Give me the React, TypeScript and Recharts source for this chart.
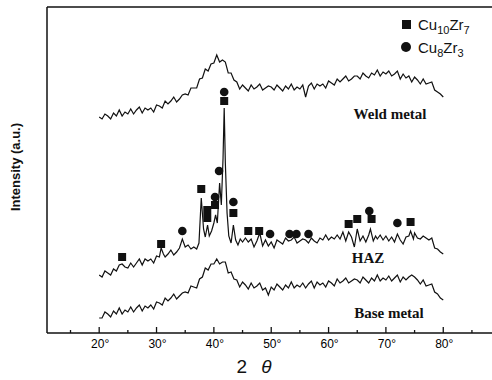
import React from 'react';
import { ComposedChart, Line, Scatter, XAxis, YAxis, ReferenceLine } from 'recharts';

// scan angles (2θ) shared by the weld and base metal traces
const scanAngles = [
  20, 20.5, 21, 21.5, 22, 22.5, 23, 23.5, 24, 24.5,
  25, 25.5, 26, 26.5, 27, 27.5, 28, 28.5, 29, 29.5,
  30, 30.5, 31, 31.5, 32, 32.5, 33, 33.5, 34, 34.5,
  35, 35.5, 36, 36.5, 37, 37.5, 38, 38.5, 39, 39.5,
  40, 40.5, 41, 41.5, 42, 42.5, 43, 43.5, 44, 44.5,
  45, 45.5, 46, 46.5, 47, 47.5, 48, 48.5, 49, 49.5,
  50, 50.5, 51, 51.5, 52, 52.5, 53, 53.5, 54, 54.5,
  55, 55.5, 56, 56.5, 57, 57.5, 58, 58.5, 59, 59.5,
  60, 60.5, 61, 61.5, 62, 62.5, 63, 63.5, 64, 64.5,
  65, 65.5, 66, 66.5, 67, 67.5, 68, 68.5, 69, 69.5,
  70, 70.5, 71, 71.5, 72, 72.5, 73, 73.5, 74, 74.5,
  75, 75.5, 76, 76.5, 77, 77.5, 78, 78.5, 79, 79.5,
  80,
];

// intensity (a.u., offset traces)
const weldMetal = [
  216, 214, 219, 217, 214, 220, 217, 223, 217, 221,
  219, 224, 219, 223, 226, 220, 225, 223, 225, 221,
  228, 227, 225, 232, 229, 232, 236, 231, 234, 238,
  239, 238, 245, 245, 245, 254, 255, 264, 262, 269,
  270, 278, 271, 273, 271, 260, 260, 253, 251, 244,
  248, 245, 242, 248, 244, 246, 249, 243, 245, 247,
  246, 243, 248, 245, 242, 247, 244, 249, 243, 246,
  244, 248, 236, 247, 250, 244, 249, 247, 249, 245,
  252, 250, 248, 254, 251, 254, 257, 252, 254, 257,
  257, 254, 260, 257, 255, 260, 258, 263, 257, 261,
  259, 262, 257, 259, 262, 254, 259, 255, 257, 251,
  256, 253, 249, 254, 249, 250, 251, 243, 241, 239,
  236,
];

const baseMetal = [
  15, 15, 21, 19, 16, 22, 19, 25, 19, 23,
  21, 26, 21, 25, 28, 22, 27, 25, 28, 24,
  31, 30, 28, 35, 32, 35, 39, 34, 37, 40,
  41, 40, 47, 46, 45, 54, 56, 65, 63, 69,
  69, 74, 69, 71, 71, 60, 61, 54, 53, 46,
  51, 48, 44, 50, 45, 47, 50, 43, 45, 38,
  46, 43, 49, 46, 43, 48, 45, 51, 45, 48,
  46, 50, 45, 49, 52, 45, 51, 48, 50, 46,
  52, 50, 47, 54, 50, 52, 55, 50, 52, 54,
  53, 50, 56, 53, 50, 55, 52, 58, 52, 55,
  53, 57, 52, 55, 58, 51, 56, 53, 56, 58,
  56, 53, 49, 53, 47, 48, 49, 41, 39, 35,
  33,
];

// HAZ trace, denser around the crystalline peaks
const hazAngles = [
  20, 20.5, 21, 21.5, 22, 22.5, 23, 23.5, 24, 24.5,
  25, 25.5, 26, 26.5, 27, 27.5, 28, 28.5, 29, 29.5,
  30, 30.5, 30.8, 31.2, 31.5, 32, 32.5, 33, 33.5, 34,
  34.5, 35, 35.5, 36, 36.5, 37, 37.4, 37.8, 38.2, 38.5,
  38.9, 39.2, 39.6, 40, 40.3, 40.6, 41, 41.3, 41.6, 41.8,
  42, 42.3, 42.6, 43, 43.4, 43.8, 44.2, 44.6, 45, 45.5,
  46, 46.5, 47, 47.5, 48, 48.5, 49, 49.5, 50, 50.5,
  51, 51.5, 52, 52.5, 53, 53.5, 54, 54.5, 55, 55.5,
  56, 56.5, 57, 57.5, 58, 58.5, 59, 59.5, 60, 60.5,
  61, 61.5, 62, 62.5, 63, 63.5, 64, 64.5, 65, 65.5,
  66, 66.5, 67, 67.3, 67.8, 68.2, 68.5, 69, 69.5, 70,
  70.5, 71, 71.5, 72, 72.5, 73, 73.5, 74, 74.3, 74.8,
  75, 75.5, 76, 76.5, 77, 77.5, 78, 78.5, 79, 79.5,
  80,
];

const hazCounts = [
  58, 56, 62, 60, 58, 64, 62, 68, 69, 66,
  65, 70, 66, 70, 74, 68, 74, 72, 74, 70,
  77, 76, 85, 79, 76, 79, 83, 78, 81, 85,
  94, 86, 88, 84, 86, 84, 90, 135, 104, 96,
  108, 97, 102, 110, 118, 110, 150, 128, 175, 225,
  170, 120, 97, 90, 108, 93, 88, 94, 91, 95,
  91, 94, 86, 92, 100, 87, 93, 87, 91, 85,
  93, 91, 89, 95, 92, 93, 96, 90, 92, 94,
  93, 90, 95, 92, 90, 95, 93, 98, 93, 96,
  94, 98, 94, 101, 92, 101, 96, 86, 104, 92,
  97, 91, 98, 104, 92, 97, 94, 98, 93, 97,
  92, 96, 91, 99, 93, 89, 96, 97, 102, 94,
  100, 95, 94, 97, 95, 93, 95, 85, 84, 81,
  79,
];

// phase markers on the HAZ pattern
const cu10Zr7Angles = [24.0, 30.8, 37.8, 38.85, 38.85, 40.2, 41.8, 43.4, 46.0, 47.9, 63.5, 65.0, 67.5, 74.3];
const cu10Zr7Heights = [76, 89, 144, 123, 115, 128, 232, 120, 102, 102, 109, 114, 114, 111];
const cu8Zr3Angles = [34.5, 40.2, 40.9, 41.8, 43.4, 49.8, 53.2, 54.4, 56.5, 67.1, 72.0];
const cu8Zr3Heights = [102, 136, 162, 241, 131, 99, 99, 99, 99, 122, 110];

const angleTicks = [15, 20, 25, 30, 35, 40, 45, 50, 55, 60, 65, 70, 75, 80, 85];

const weldData = scanAngles.map((x, i) => ({ x, y: weldMetal[i] }));
const baseData = scanAngles.map((x, i) => ({ x, y: baseMetal[i] }));
const hazData = hazAngles.map((x, i) => ({ x, y: hazCounts[i] }));
const squareData = cu10Zr7Angles.map((x, i) => ({ x, y: cu10Zr7Heights[i] }));
const circleData = cu8Zr3Angles.map((x, i) => ({ x, y: cu8Zr3Heights[i] }));

const INK = '#111';

const AngleTick = (props: any) => {
  const { x, y, payload } = props;
  const major = payload.value % 10 === 0;
  return (
    <g>
      <line x1={x} x2={x} y1={y} y2={y - (major ? 6 : 3)} stroke={INK} strokeWidth={1.3} />
      {major && (
        <text x={x + 1} y={y + 15} textAnchor="middle" fontFamily="Arial, 'Liberation Sans'" fontSize={12} fill="#000">
          {payload.value + '°'}
        </text>
      )}
    </g>
  );
};

const SquareMark = (props: any) => (
  <rect x={props.cx - 4} y={props.cy - 4} width={8} height={8} fill={INK} />
);
const CircleMark = (props: any) => <circle cx={props.cx} cy={props.cy} r={4.3} fill={INK} />;

const serif = "'Liberation Serif', 'Times New Roman', serif";
const sans = "'Liberation Sans', Arial, sans-serif";

export default function App() {
  return (
    <div style={{ position: 'absolute', left: 0, top: 0, width: 492, height: 380, background: '#fff' }}>
      <ComposedChart width={492} height={380} margin={{ top: 7, right: 0, bottom: 0, left: 0 }}>
        <XAxis
          dataKey="x"
          type="number"
          domain={[10.9, 88.5]}
          ticks={angleTicks}
          interval={0}
          allowDataOverflow
          tick={<AngleTick />}
          tickLine={false}
          tickSize={0}
          tickMargin={0}
          height={47}
          stroke={INK}
          strokeWidth={1.5}
        />
        <YAxis type="number" domain={[0, 326]} width={47} tick={false} tickLine={false} stroke={INK} strokeWidth={1.5} allowDataOverflow />
        <ReferenceLine y={326} stroke={INK} strokeWidth={1.5} ifOverflow="visible" />
        <Line data={weldData} dataKey="y" stroke={INK} strokeWidth={1.2} dot={false} isAnimationActive={false} />
        <Line data={hazData} dataKey="y" stroke={INK} strokeWidth={1.2} dot={false} isAnimationActive={false} />
        <Line data={baseData} dataKey="y" stroke={INK} strokeWidth={1.2} dot={false} isAnimationActive={false} />
        <Scatter data={squareData} dataKey="y" shape={SquareMark} isAnimationActive={false} />
        <Scatter data={circleData} dataKey="y" shape={CircleMark} isAnimationActive={false} />
      </ComposedChart>
      <svg width={492} height={380} style={{ position: 'absolute', left: 0, top: 0, pointerEvents: 'none' }}>
        <text x={390} y={119} textAnchor="middle" fontFamily={serif} fontWeight="bold" fontSize={15} fill={INK}>Weld metal</text>
        <text x={368} y={263} textAnchor="middle" fontFamily={serif} fontWeight="bold" fontSize={15} fill={INK}>HAZ</text>
        <text x={389} y={318} textAnchor="middle" fontFamily={serif} fontWeight="bold" fontSize={15} fill={INK}>Base metal</text>

        <rect x={402} y={20} width={9} height={9} fill={INK} />
        <text x={418} y={30} fontFamily={sans} fontSize={15} fill={INK}>
          Cu<tspan dy={4} fontSize={11}>10</tspan><tspan dy={-4}>Zr</tspan><tspan dy={4} fontSize={11}>7</tspan>
        </text>
        <circle cx={406} cy={47} r={5} fill={INK} />
        <text x={418} y={53} fontFamily={sans} fontSize={15} fill={INK}>
          Cu<tspan dy={4} fontSize={11}>8</tspan><tspan dy={-4}>Zr</tspan><tspan dy={4} fontSize={11}>3</tspan>
        </text>

        <text x={20} y={167} transform="rotate(-90, 20, 167)" textAnchor="middle" fontFamily={sans} fontWeight="bold" fontSize={13} fill={INK}>
          Intensity (a.u.)
        </text>
        <text x={254} y={373} textAnchor="middle" fontFamily={sans} fontSize={19} fill={INK}>
          2<tspan dx={14} fontStyle="italic">θ</tspan>
        </text>
      </svg>
    </div>
  );
}
